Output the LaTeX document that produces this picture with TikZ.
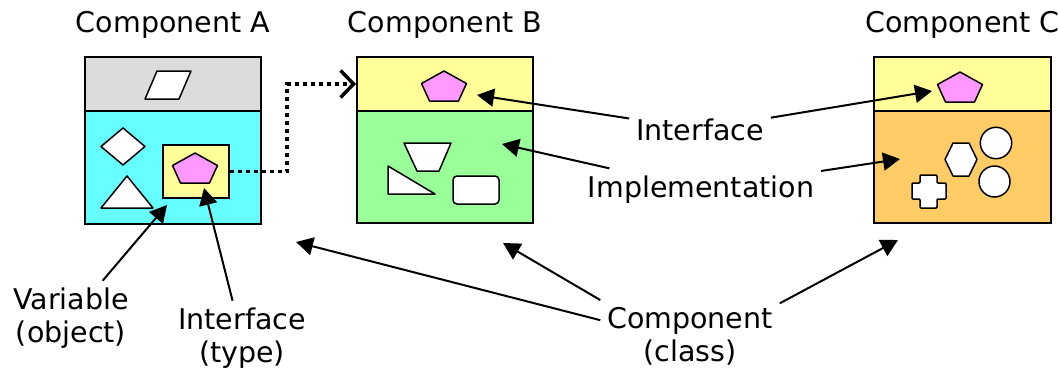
\documentclass[tikz,border=0pt]{standalone}
\usepackage{fontspec}
\setmainfont{DejaVu Sans}
\usepackage{tikz}
\usetikzlibrary{arrows.meta,positioning}

\begin{document}
\begin{tikzpicture}[x=1pt,y=-1pt,
    part/.style={draw=black,line width=2pt,inner sep=0pt,minimum width=176pt},
    shp/.style={draw=black,fill=white,line width=1.5pt,line join=round},
    lbl/.style={font=\fontsize{28.5}{33}\selectfont,inner sep=1pt,outer sep=6pt,align=center},
    ptr/.style={line width=2pt,-{Triangle[length=17pt,width=18pt]}},
    dotconn/.style={line width=3.5pt,dash pattern=on 4pt off 4pt,-{Straight Barb[length=13pt,width=27pt,line width=3.5pt]}},
    pent/.pic={\filldraw[shp,fill=pentPink] (0,0) -- (22.5,12.5) -- (14.5,30) -- (-14.5,30) -- (-22.5,12.5) -- cycle;}]
    \definecolor{partGray}{HTML}{DCDCDC}
    \definecolor{partCyan}{HTML}{66FFFF}
    \definecolor{partYellow}{HTML}{FFFF99}
    \definecolor{partGreen}{HTML}{99FF99}
    \definecolor{partOrange}{HTML}{FFCC66}
    \definecolor{pentPink}{HTML}{FF99FF}

    \useasboundingbox (0,0) rectangle (1058,373);

    % component A
    \node[part,fill=partGray,minimum height=54pt] (topA) at (173,84) {};
    \node[part,fill=partCyan,minimum height=113pt] (botA) at (173,167.5) {};
    \node[lbl,outer sep=0pt,above=17pt of topA] (ttlA) {Component A};
    \filldraw[shp] (145,99) -- (157,71) -- (191,71) -- (179,99) -- cycle;
    \filldraw[shp] (101,146.5) -- (123,128) -- (145,146.5) -- (123,165) -- cycle;
    \filldraw[shp] (101,208) -- (153,208) -- (127,176) -- cycle;
    \node[part,fill=partYellow,minimum width=66pt,minimum height=53pt] (ifA) at (196,171.5) {};
    \pic at (195,153) {pent};

    % component B
    \node[part,fill=partYellow,minimum height=54pt] (topB) at (445,84) {};
    \node[part,fill=partGreen,minimum height=112pt] (botB) at (445,167) {};
    \node[lbl,outer sep=0pt,above=17pt of topB] (ttlB) {Component B};
    \pic at (444,71) {pent};
    \filldraw[shp] (404,143) -- (451,143) -- (439,171) -- (417,171) -- cycle;
    \filldraw[shp] (388,166) -- (388,194) -- (435,194) -- cycle;
    \filldraw[shp,rounded corners=4pt] (453,176) rectangle (499,204);

    % component C
    \node[part,fill=partYellow,minimum width=177pt,minimum height=54pt] (topC) at (962.5,84) {};
    \node[part,fill=partOrange,minimum width=177pt,minimum height=112pt] (botC) at (962.5,167) {};
    \node[lbl,outer sep=0pt,above=17pt of topC] (ttlC) {Component C};
    \pic at (960,72) {pent};
    \filldraw[shp] (945,159.5) -- (953,143) -- (969,143) -- (977,159.5) -- (969,176) -- (953,176) -- cycle;
    \filldraw[shp] (996,143) circle (15.7);
    \filldraw[shp] (994.5,181.5) circle (15.5);
    \filldraw[shp,rounded corners=1pt] (920,175) -- (937,175) -- (937,183) -- (946,183) -- (946,199) -- (937,199)
        -- (937,208) -- (920,208) -- (920,199) -- (912,199) -- (912,183) -- (920,183) -- cycle;

    % interface A used by B
    \draw[dotconn] (ifA.east) -- ++(57,0) |- (topB.west);

    % labels
    \node[lbl,anchor=base] (lblIf) at (700,140) {Interface};
    \node[lbl,anchor=base] (lblImpl) at (701,197) {Implementation};
    \node[lbl] (lblComp) at (690,336) {Component\\(class)};
    \node[lbl] (lblVar) at (71,318) {Variable\\(object)};
    \node[lbl] (lblType) at (242,338) {Interface\\(type)};

    \coordinate (tipIfB) at (477,95);
    \coordinate (tipIfC) at (932,91);
    \coordinate (tipImB) at (502,144);
    \coordinate (tipImC) at (900,159);
    \coordinate (tipCoA) at (296,242);
    \coordinate (tipCoB) at (503,243);
    \coordinate (tipCoC) at (898,240);
    \coordinate (tipVar) at (167,205);
    \coordinate (tipType) at (204,188);

    \draw[ptr] (lblIf) -- (tipIfB);
    \draw[ptr] (lblIf) -- (tipIfC);
    \draw[ptr] (lblImpl) -- (tipImB);
    \draw[ptr] (lblImpl) -- (tipImC);
    \draw[ptr] (lblComp.170) -- (tipCoA);
    \draw[ptr] (lblComp.north west) -- (tipCoB);
    \draw[ptr] (lblComp.20) -- (tipCoC);
    \draw[ptr] (lblVar) -- (tipVar);
    \draw[ptr] (lblType) -- (tipType);
\end{tikzpicture}
\end{document}
